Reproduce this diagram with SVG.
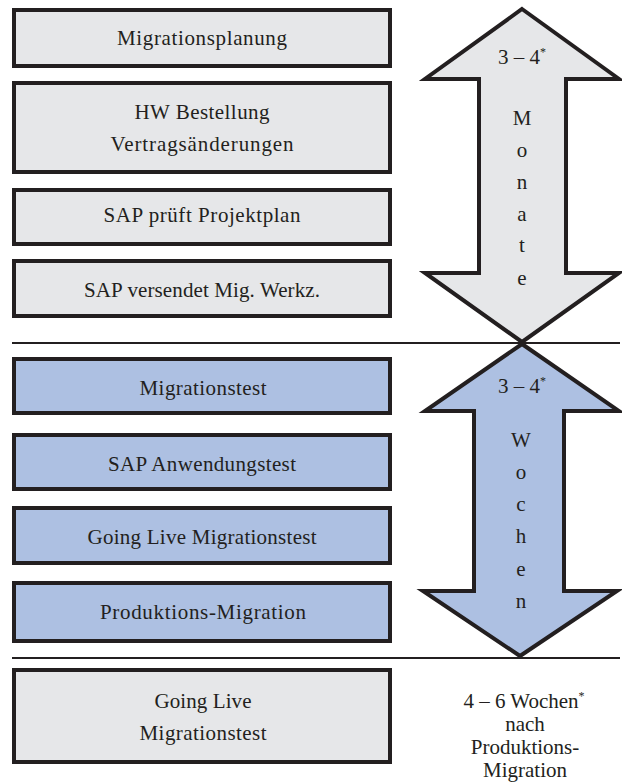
<svg xmlns="http://www.w3.org/2000/svg" width="622" height="784" viewBox="0 0 622 784">
<style>
.box{stroke:#231f20;stroke-width:4}
.g{fill:#e6e7e9}
.b{fill:#adc0e2}
text{font-family:'Liberation Serif','DejaVu Serif',serif;font-size:21px;fill:#231f20;text-anchor:middle}
.arr{stroke:#231f20;stroke-width:4;stroke-linejoin:miter}
.sep{stroke:#231f20;stroke-width:2}
.sup{font-size:12px}
</style>
<rect width="622" height="784" fill="#ffffff"/>
<g id="connectors">
<line class="sep" x1="12" y1="343" x2="620" y2="343"/>
<line class="sep" x1="12" y1="658" x2="620" y2="658"/>
</g>
<g id="n1"><rect class="box g" x="14" y="10" width="376" height="56"/><text x="202" y="45" textLength="170" lengthAdjust="spacing">Migrationsplanung</text></g>
<g id="n2"><rect class="box g" x="14" y="83" width="376" height="89"/><text x="202" y="119" textLength="135" lengthAdjust="spacing">HW Bestellung</text><text x="202" y="151" textLength="183" lengthAdjust="spacing">Vertragsänderungen</text></g>
<g id="n3"><rect class="box g" x="14" y="190" width="376" height="54"/><text x="202" y="222" textLength="197" lengthAdjust="spacing">SAP prüft Projektplan</text></g>
<g id="n4"><rect class="box g" x="14" y="261" width="376" height="55"/><text x="202" y="297" textLength="236" lengthAdjust="spacing">SAP versendet Mig. Werkz.</text></g>
<g id="n5"><rect class="box b" x="14" y="359" width="376" height="54"/><text x="203" y="395" textLength="127" lengthAdjust="spacing">Migrationstest</text></g>
<g id="n6"><rect class="box b" x="14" y="435" width="376" height="54"/><text x="202" y="471" textLength="188" lengthAdjust="spacing">SAP Anwendungstest</text></g>
<g id="n7"><rect class="box b" x="14" y="508" width="376" height="55"/><text x="202" y="544" textLength="229" lengthAdjust="spacing">Going Live Migrationstest</text></g>
<g id="n8"><rect class="box b" x="14" y="583" width="376" height="58"/><text x="203" y="619" textLength="206" lengthAdjust="spacing">Produktions-Migration</text></g>
<g id="n9"><rect class="box g" x="14" y="670" width="376" height="92"/><text x="203" y="708" textLength="97" lengthAdjust="spacing">Going Live</text><text x="203" y="740" textLength="127" lengthAdjust="spacing">Migrationstest</text></g>
<g id="arrow1">
<polygon class="arr g" points="522,9 619,79 566,79 566,273 619,273 522,342 425,273 479,273 479,79 425,79"/>
<text x="522" y="64">3 – 4<tspan class="sup" dy="-8">*</tspan></text>
<text x="522" y="125">M</text>
<text x="522" y="157">o</text>
<text x="522" y="189">n</text>
<text x="522" y="221">a</text>
<text x="522" y="252">t</text>
<text x="522" y="285">e</text>
</g>
<g id="arrow2">
<polygon class="arr b" points="522,344 619,411 564,411 564,591 617,591 520,656 423,591 474,591 474,411 425,411"/>
<text x="522" y="393">3 – 4<tspan class="sup" dy="-8">*</tspan></text>
<text x="521" y="447">W</text>
<text x="521" y="479">o</text>
<text x="521" y="511">c</text>
<text x="521" y="543">h</text>
<text x="521" y="576">e</text>
<text x="521" y="608">n</text>
</g>
<g id="note">
<text x="524" y="708">4 – 6 Wochen<tspan class="sup" dy="-8">*</tspan></text>
<text x="525" y="731">nach</text>
<text x="525" y="754">Produktions-</text>
<text x="525" y="777">Migration</text>
</g>
</svg>
